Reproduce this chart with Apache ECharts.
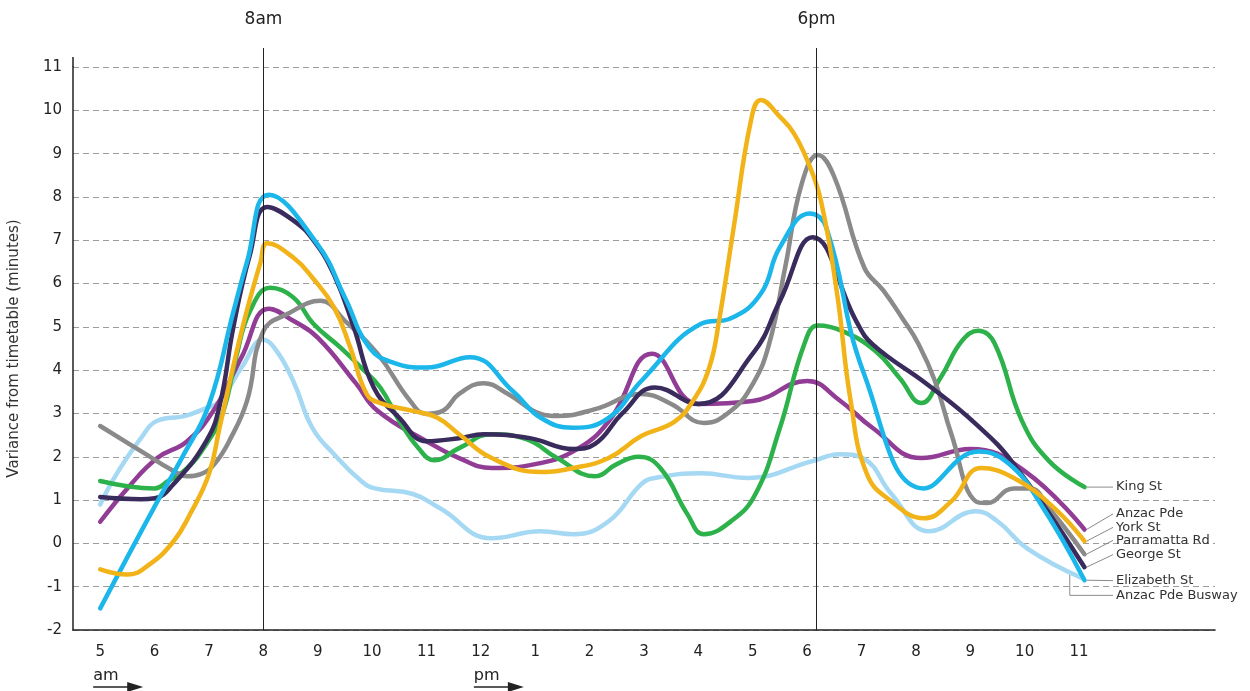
<!DOCTYPE html>
<html>
<head>
<meta charset="utf-8">
<title>Bus timetable variance by time of day</title>
<script src="https://cdn.jsdelivr.net/npm/echarts@6/dist/echarts.min.js"></script>
<style>
  html, body { margin: 0; padding: 0; background: #ffffff; }
  #chart { width: 1250px; height: 691px; }
</style>
</head>
<body>
<div id="chart"></div>
<script>
// Hour ticks on the x axis (24-hour clock), shown as 5am ... 11pm
const hourTicks = [5, 6, 7, 8, 9, 10, 11, 12, 13, 14, 15, 16, 17, 18, 19, 20, 21, 22, 23];
const yTicks = [-2, -1, 0, 1, 2, 3, 4, 5, 6, 7, 8, 9, 10, 11];

// Peak-hour reference times
const morningPeak = 8;
const eveningPeak = 18.17;

// Variance from timetable (minutes) by time of day, [hour, minutes]
const kingSt = [[5,1.44],[5.5,1.32],[6,1.27],[6.25,1.44],[6.6,1.74],[6.95,2.29],[7.25,3.0],[7.5,4.3],[7.75,5.35],[8.13,5.9],[8.55,5.68],[8.92,5.07],[9.42,4.52],[9.8,4.06],[10.15,3.6],[10.5,2.83],[10.85,2.2],[11.15,1.92],[11.6,2.2],[12.2,2.52],[12.85,2.4],[13.4,1.97],[14.1,1.55],[14.5,1.83],[14.9,2.0],[15.3,1.74],[15.8,0.67],[16.1,0.21],[16.6,0.51],[17.05,1.14],[17.5,2.67],[17.95,4.61],[18.2,5.03],[18.65,4.9],[19.25,4.45],[19.7,3.82],[20.1,3.24],[20.45,3.82],[20.85,4.68],[21.15,4.91],[21.45,4.61],[21.95,2.83],[22.45,1.9],[23.1,1.3]];
const anzacPde = [[5,0.5],[5.5,1.27],[6.05,1.97],[6.6,2.36],[7.1,3.1],[7.6,4.3],[8.1,5.42],[8.55,5.14],[9.0,4.75],[9.7,3.7],[10.1,3.06],[11.0,2.36],[11.6,1.97],[12.2,1.74],[13.0,1.83],[13.8,2.2],[14.4,2.9],[15.15,4.38],[16.0,3.22],[17.0,3.29],[18.0,3.75],[18.6,3.3],[19.2,2.67],[20.1,1.97],[21.0,2.18],[22.0,1.67],[23.1,0.32]];
const yorkSt = [[5,-0.6],[5.5,-0.72],[5.9,-0.49],[6.35,0.05],[6.65,0.67],[7.0,1.6],[7.2,2.7],[7.6,4.9],[7.95,6.5],[8.07,6.93],[8.55,6.6],[8.9,6.14],[9.3,5.45],[9.6,4.52],[9.9,3.45],[10.15,3.24],[10.75,3.06],[11.2,2.9],[11.6,2.52],[12.2,1.97],[13.1,1.65],[13.7,1.74],[14.35,1.97],[14.95,2.48],[15.55,2.8],[15.9,3.29],[16.2,4.06],[16.38,5.14],[16.65,7.3],[16.97,9.78],[17.15,10.24],[17.5,9.85],[17.75,9.48],[18.0,8.85],[18.25,7.93],[18.55,5.77],[18.8,3.29],[19.1,1.6],[19.55,0.97],[20.15,0.58],[20.65,0.97],[21.2,1.74],[21.8,1.51],[22.55,0.81],[23.1,0.05]];
const parramattaRd = [[5,2.71],[5.75,2.13],[6.35,1.67],[6.6,1.55],[6.85,1.6],[7.1,1.83],[7.4,2.43],[7.7,3.29],[8.0,4.9],[8.45,5.3],[9.05,5.6],[9.5,5.14],[10.1,4.38],[10.7,3.29],[11.0,2.99],[11.3,3.06],[11.6,3.45],[12.05,3.7],[12.5,3.45],[13.1,2.99],[13.4,2.94],[14.1,3.1],[14.95,3.45],[15.5,3.22],[16.1,2.78],[16.6,3.06],[17.0,3.68],[17.3,4.6],[17.6,6.4],[17.9,8.3],[18.2,8.97],[18.5,8.46],[19.05,6.37],[19.4,5.84],[19.75,5.2],[20.05,4.6],[20.35,3.75],[20.65,2.53],[21.1,0.97],[21.3,0.93],[21.8,1.27],[22.1,1.27],[22.45,0.81],[23.1,-0.25]];
const georgeSt = [[5,1.07],[5.75,1.02],[6.0,1.04],[6.35,1.37],[6.95,2.36],[7.2,3.2],[7.45,5.0],[7.75,6.65],[8.07,7.77],[8.55,7.46],[8.92,7.0],[9.3,6.2],[9.66,5.0],[10.03,3.6],[10.5,2.9],[11.0,2.36],[11.6,2.43],[12.05,2.52],[12.9,2.43],[13.7,2.18],[14.1,2.3],[14.6,3.0],[15.2,3.6],[16.0,3.22],[17.0,4.38],[17.5,5.6],[18.1,7.07],[18.9,5.14],[19.2,4.6],[20.2,3.68],[21.1,2.76],[21.8,1.83],[23.1,-0.55]];
const elizabethSt = [[5,-1.5],[6,0.85],[6.5,1.97],[7.0,3.2],[7.45,5.35],[7.7,6.5],[8.1,8.05],[9.0,6.9],[9.5,5.68],[9.95,4.52],[10.4,4.17],[11.0,4.06],[11.8,4.3],[12.6,3.5],[13.1,2.9],[13.7,2.67],[14.35,2.9],[14.95,3.75],[16.05,5.07],[16.6,5.2],[17.15,5.77],[17.5,6.84],[18.05,7.62],[18.35,7.3],[19.05,3.9],[20.15,1.27],[21.15,2.12],[21.7,1.85],[22.3,0.9],[23.1,-0.85]];
const anzacPdeBusway = [[5,0.9],[5.3,1.6],[5.75,2.43],[6.05,2.83],[6.55,2.94],[6.9,3.1],[7.2,3.29],[7.6,4.06],[8.0,4.7],[8.2,4.52],[8.55,3.75],[8.9,2.67],[9.3,2.06],[9.8,1.44],[10.05,1.27],[10.75,1.14],[11.25,0.81],[12.2,0.12],[13.1,0.28],[13.7,0.21],[14.35,0.51],[14.95,1.37],[15.2,1.51],[16.05,1.62],[16.9,1.51],[18.1,1.9],[18.6,2.06],[19.05,1.95],[19.55,1.14],[20.25,0.28],[21.1,0.74],[21.5,0.51],[22.05,-0.12],[23.05,-0.8]];

// Series definitions: name, data, colour, and where its name sits (minutes) to the right
const routes = [
  { name: 'Anzac Pde Busway', data: anzacPdeBusway, color: '#a5d8f3', labelY: -1.2, elbow: true },
  { name: 'Anzac Pde',        data: anzacPde,       color: '#913c95', labelY: 0.68 },
  { name: 'King St',          data: kingSt,         color: '#2db24b', labelY: 1.3 },
  { name: 'Parramatta Rd',    data: parramattaRd,   color: '#8a8a8a', labelY: 0.07 },
  { name: 'George St',        data: georgeSt,       color: '#3a2b5d', labelY: -0.26 },
  { name: 'Elizabeth St',     data: elizabethSt,    color: '#1bb6ea', labelY: -0.86 },
  { name: 'York St',          data: yorkSt,         color: '#f2b318', labelY: 0.37 }
];

const FONT = "'DejaVu Sans', 'Open Sans', sans-serif";
const chart = echarts.init(document.getElementById('chart'), null, { renderer: 'canvas', width: 1250, height: 691 });

const option = {
  animation: false,
  backgroundColor: '#ffffff',
  textStyle: { fontFamily: FONT },
  grid: { left: 73, right: 35, top: 67, bottom: 61, containLabel: false, outerBoundsMode: 'none' },
  xAxis: {
    type: 'value',
    min: 4.5,
    max: 25.5,
    splitLine: { show: false },
    axisLine: { show: true, onZero: false, lineStyle: { color: '#222', width: 1.5 } },
    axisTick: { show: false },
    axisLabel: {
      customValues: hourTicks,
      formatter: v => String(v > 12 ? v - 12 : v),
      fontSize: 15,
      color: '#222',
      margin: 15,
      fontFamily: FONT
    }
  },
  yAxis: {
    type: 'value',
    min: yTicks[0],
    max: yTicks[yTicks.length - 1],
    interval: 1,
    name: 'Variance from timetable (minutes)',
    nameLocation: 'middle',
    nameRotate: 90,
    nameGap: 51,
    nameTextStyle: { fontSize: 15, color: '#333', fontFamily: FONT },
    axisLine: { show: true, onZero: false, lineStyle: { color: '#222', width: 1.5 } },
    axisTick: { show: false },
    axisLabel: { fontSize: 15, color: '#222', margin: 11, fontFamily: FONT },
    splitLine: { show: true, lineStyle: { color: '#9c9c9c', width: 1, type: [6, 4] } }
  },
  series: routes.map(r => ({
    name: r.name,
    type: 'line',
    data: r.data,
    smooth: 0.45,
    showSymbol: false,
    symbol: 'none',
    lineStyle: { color: r.color, width: 4.5, cap: 'round', join: 'round' },
    itemStyle: { color: r.color },
    emphasis: { disabled: true },
    clip: false
  }))
};

chart.setOption(option);

// Overlay: peak-hour guides, route name labels with leader lines, am/pm arrows
function px(pt) { return chart.convertToPixel({ xAxisIndex: 0, yAxisIndex: 0 }, pt); }

const elements = [];
const topY = px([0, yTicks[yTicks.length - 1]])[1];
const bottomY = px([0, yTicks[0]])[1];
const leftX = px([4.5, 0])[0];

// extend the y axis line a little above the top gridline
elements.push({ type: 'line', shape: { x1: leftX, y1: topY - 10, x2: leftX, y2: topY }, style: { stroke: '#222', lineWidth: 1.5 }, silent: true });

[[morningPeak, '8am'], [eveningPeak, '6pm']].forEach(([h, txt]) => {
  const x = Math.round(px([h, 0])[0]) + 0.5;
  elements.push({ type: 'line', shape: { x1: x, y1: 48, x2: x, y2: bottomY }, style: { stroke: '#222', lineWidth: 1 }, z: 100, silent: true });
  elements.push({ type: 'text', x: x, y: 20, style: { text: txt, fill: '#222', font: '17px ' + FONT, textAlign: 'center', textVerticalAlign: 'middle' }, silent: true });
});

routes.forEach(r => {
  const last = r.data[r.data.length - 1];
  const end = px(last);
  const ly = px([0, r.labelY])[1];
  const textX = 1116;
  if (r.elbow) {
    const ex = end[0] - 12;
    const ey = px([last[0] - 12 / 54.4, last[1] + 0.08])[1];
    elements.push({ type: 'polyline', shape: { points: [[ex, ey], [ex, ly], [textX - 3, ly]] }, style: { stroke: '#8a8a8a', lineWidth: 1, fill: null }, silent: true });
  } else {
    elements.push({ type: 'line', shape: { x1: end[0] + 2, y1: end[1], x2: textX - 3, y2: ly }, style: { stroke: '#8a8a8a', lineWidth: 1 }, silent: true });
  }
  elements.push({ type: 'text', x: textX, y: ly, style: { text: r.name, fill: '#333', font: '13px ' + FONT, textAlign: 'left', textVerticalAlign: 'middle' }, silent: true });
});

function periodArrow(h, txt) {
  const x0 = px([h, 0])[0] - 7;
  elements.push({ type: 'text', x: x0, y: 676, style: { text: txt, fill: '#222', font: '16px ' + FONT, textAlign: 'left', textVerticalAlign: 'middle' }, silent: true });
  elements.push({ type: 'line', shape: { x1: x0, y1: 687, x2: x0 + 36, y2: 687 }, style: { stroke: '#222', lineWidth: 1.5 }, silent: true });
  elements.push({ type: 'polygon', shape: { points: [[x0 + 34, 682], [x0 + 50, 687], [x0 + 34, 692]] }, style: { fill: '#222' }, silent: true });
}
periodArrow(5, 'am');
periodArrow(12, 'pm');

chart.setOption({ graphic: { elements: elements } });
</script>
</body>
</html>
